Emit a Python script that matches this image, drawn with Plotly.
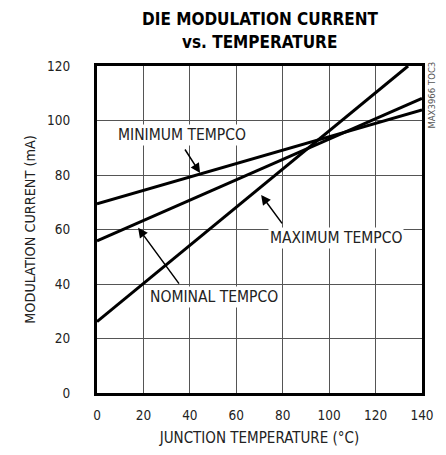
import plotly.graph_objects as go

temp = [0, 140]
min_tempco = [69.4, 103.9]
nom_tempco = [55.8, 108.1]
max_temp = [0, 134]
max_tempco = [26.2, 120]

x_ticks = [0, 20, 40, 60, 80, 100, 120, 140]
y_ticks = [0, 20, 40, 60, 80, 100, 120]

FONT = "DejaVu Sans Condensed, Roboto, sans-serif"
TXT = "#222"
line = dict(color="black", width=3)

fig = go.Figure()
fig.add_trace(go.Scatter(x=temp, y=min_tempco, mode="lines", line=line, showlegend=False))
fig.add_trace(go.Scatter(x=temp, y=nom_tempco, mode="lines", line=line, showlegend=False))
fig.add_trace(go.Scatter(x=max_temp, y=max_tempco, mode="lines", line=line, showlegend=False))

labels = [
    ("MINIMUM TEMPCO", 36.4, 94.7, 37.5, 89.9, 44.4, 80.7),
    ("MAXIMUM TEMPCO", 102.8, 56.9, 80.2, 61.7, 70.7, 72.7),
    ("NOMINAL TEMPCO", 50.2, 35.2, 35.8, 39.6, 17.7, 60.6),
]
for text, tx, ty, ax_, ay_, hx, hy in labels:
    fig.add_annotation(x=tx, y=ty, text=text, showarrow=False, bgcolor="white",
                       font=dict(family=FONT, size=15.5, color=TXT), borderpad=1)
    fig.add_annotation(x=hx, y=hy, ax=ax_, ay=ay_, axref="x", ayref="y", text="",
                       showarrow=True, arrowhead=2, arrowsize=1.3, arrowwidth=1.5, arrowcolor="black")

fig.add_annotation(xref="paper", yref="paper", x=1.028, y=1.0, yshift=6, text="MAX3966 TOC3",
                   textangle=-90, showarrow=False, xanchor="center", yanchor="top",
                   font=dict(family=FONT, size=9.5, color="#555"))

fig.add_annotation(xref="paper", yref="paper", x=0.5, y=1.0, yshift=47, text="<b>DIE MODULATION CURRENT</b>",
                   showarrow=False, xanchor="center", yanchor="middle",
                   font=dict(family=FONT, size=17, color="black"))
fig.add_annotation(xref="paper", yref="paper", x=0.5, y=1.0, yshift=24, text="<b>vs. TEMPERATURE</b>",
                   showarrow=False, xanchor="center", yanchor="middle",
                   font=dict(family=FONT, size=17, color="black"))

fig.update_layout(
    width=430, height=439,
    margin=dict(l=89, r=16, t=58, b=54),
    paper_bgcolor="white", plot_bgcolor="white",
    font=dict(family=FONT, size=13.5, color=TXT),
)
fig.update_xaxes(range=[0, 140], tickvals=x_ticks, ticks="", showgrid=True, gridcolor="#555", gridwidth=1,
                 showline=True, linecolor="black", linewidth=3, mirror=True, zeroline=False, automargin=False,
                 title=dict(text="JUNCTION TEMPERATURE (°C)", standoff=13, font=dict(family=FONT, size=15, color=TXT)),
                 ticklabelstandoff=8, tickfont=dict(family=FONT, size=13.5, color=TXT))
fig.update_yaxes(range=[0, 120], tickvals=y_ticks, ticks="", showgrid=True, gridcolor="#555", gridwidth=1,
                 showline=True, linecolor="black", linewidth=3, mirror=True, zeroline=False, automargin=False,
                 title=dict(text="MODULATION CURRENT (mA)", standoff=9, font=dict(family=FONT, size=14.3, color=TXT)),
                 ticklabelstandoff=21, tickfont=dict(family=FONT, size=13.5, color=TXT))

fig.write_html("out.html")
